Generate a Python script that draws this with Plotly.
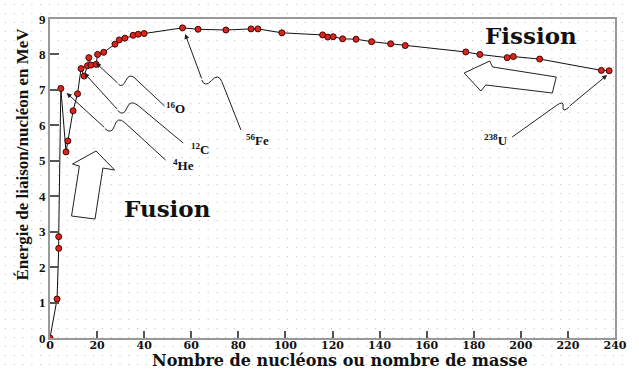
import base64
import plotly.graph_objects as go

# Binding energy per nucleon vs. mass number
mass_number = [0, 3.0, 3.7, 3.7, 4.6, 6.8, 7.6, 9.8, 11.7, 13.2, 14.5, 15.9, 16.5, 17.4,
               19.6, 20.2, 22.8, 27.6, 29.4, 31.8, 35.3, 37.5, 40.0, 56.3, 62.9, 74.7,
               85.4, 88.3, 98.5, 115.8, 118.0, 120.3, 124.3, 130.0, 136.6, 144.7, 150.9,
               176.6, 182.6, 194.2, 196.8, 208.0, 234.2, 237.5]
binding_energy = [0.0, 1.10, 2.53, 2.86, 7.04, 5.25, 5.56, 6.41, 6.89, 7.60, 7.39, 7.68,
                  7.91, 7.70, 7.72, 8.00, 8.06, 8.29, 8.41, 8.46, 8.54, 8.57, 8.59, 8.75,
                  8.71, 8.69, 8.72, 8.72, 8.61, 8.55, 8.49, 8.50, 8.44, 8.43, 8.36, 8.30,
                  8.25, 8.07, 8.00, 7.91, 7.94, 7.87, 7.55, 7.54]

x_ticks = list(range(0, 241, 20))
y_ticks = list(range(0, 10))

W, H = 639, 370
ML, MR, MT, MB = 50, 12, 19, 32
PW, PH = W - ML - MR, H - MT - MB
XR, YR = (0, 240), (0, 9)


def px_to_data(px, py):
    return (XR[0] + (px - ML) / PW * (XR[1] - XR[0]),
            YR[0] + (MT + PH - py) / PH * (YR[1] - YR[0]))


def px_to_paper(px, py):
    return (px - ML) / PW, (MT + PH - py) / PH


SERIF_B = dict(family="DejaVu Serif", color="#111", weight="bold")
TIMES_B = dict(family="Liberation Serif", color="#111", weight="bold")

fig = go.Figure()
fig.add_trace(go.Scatter(
    x=mass_number, y=binding_energy, mode="lines+markers",
    line=dict(color="#111", width=1),
    marker=dict(size=6, color="#d8261c", line=dict(color="#4a0000", width=1)),
    hoverinfo="skip", showlegend=False,
))

# dotted page texture
svg = (f'<svg xmlns="http://www.w3.org/2000/svg" width="{W}" height="{H}">'
       '<defs><pattern id="d" width="9" height="9" patternUnits="userSpaceOnUse">'
       '<rect x="4" y="4" width="1" height="1" fill="#bdbdbd"/></pattern></defs>'
       f'<rect width="{W}" height="{H}" fill="url(#d)"/></svg>')
src = "data:image/svg+xml;base64," + base64.b64encode(svg.encode()).decode()
x0p, y1p = px_to_paper(0, 0)
fig.add_layout_image(dict(source=src, xref="paper", yref="paper", x=x0p, y=y1p,
                          sizex=W / PW, sizey=H / PH, sizing="stretch",
                          xanchor="left", yanchor="top", layer="below"))

shapes = []
annotations = []

# labelled pointers with a wavy break: (start, first bend, second bend, tip) in pixels
pointers = [
    ((168, 160), (119, 116), (113, 135), (67, 93)),
    ((186, 143), (132, 99), (125, 117), (85, 73)),
    ((167, 106), (131, 73), (124, 88), (97, 63)),
    ((245, 130), (222, 73), (208, 88), (188, 34)),
    ((522, 137), (575, 100), (573, 113), (619, 75)),
]
for s, p1, p2, tip in pointers:
    # round the break with quadratic curves around each bend
    a = (s[0] + 0.85 * (p1[0] - s[0]), s[1] + 0.85 * (p1[1] - s[1]))
    m = ((p1[0] + p2[0]) / 2, (p1[1] + p2[1]) / 2)
    b = (p2[0] + 0.15 * (tip[0] - p2[0]), p2[1] + 0.15 * (tip[1] - p2[1]))
    pts = [px_to_data(*p) for p in (s, a, p1, m, p2, b)]
    path = "M {} {} L {} {} Q {} {} {} {} Q {} {} {} {}".format(
        *[v for p in pts for v in p])
    shapes.append(dict(type="path", path=path, xref="x", yref="y",
                       line=dict(color="#222", width=1)))
    tx, ty = px_to_data(*tip)
    annotations.append(dict(x=tx, y=ty, xref="x", yref="y", text="", showarrow=True,
                            ax=b[0] - tip[0], ay=b[1] - tip[1], arrowhead=2,
                            arrowsize=1, arrowwidth=1, arrowcolor="#222"))

# hollow block arrows
fusion_arrow = [(97, 151), (116, 170), (104, 168), (96, 219), (72, 216), (80, 166), (73, 164)]
fission_arrow = [(473, 73), (499, 61), (502, 67), (567, 77), (563, 93), (495, 85), (490, 91)]
for poly in (fusion_arrow, fission_arrow):
    pts = [px_to_data(*p) for p in poly]
    path = "M " + " L ".join(f"{a} {b}" for a, b in pts) + " Z"
    shapes.append(dict(type="path", path=path, xref="x", yref="y",
                       fillcolor="white", line=dict(color="#222", width=1)))

labels = [
    ("<sup>4</sup>He", 186, 165), ("<sup>12</sup>C", 203, 149), ("<sup>16</sup>O", 178, 108),
    ("<sup>56</sup>Fe", 262, 140), ("<sup>238</sup>U", 505, 140),
]
for text, px, py in labels:
    x, y = px_to_data(px, py)
    annotations.append(dict(x=x, y=y, xref="x", yref="y", text=text, showarrow=False,
                            xanchor="center", yanchor="middle",
                            font=dict(size=13, **TIMES_B)))

for text, px, py in [("Fusion", 170, 208), ("Fission", 541, 35)]:
    x, y = px_to_data(px, py)
    annotations.append(dict(x=x, y=y, xref="x", yref="y", text=text, showarrow=False,
                            xanchor="center", yanchor="middle",
                            font=dict(size=23, **SERIF_B)))

xt, yt = px_to_paper(346, 360)
annotations.append(dict(x=xt, y=yt, xref="paper", yref="paper", showarrow=False,
                        xanchor="center", yanchor="middle",
                        text="Nombre de nucléons ou nombre de masse",
                        font=dict(size=16, **SERIF_B)))
xt, yt = px_to_paper(21, 154)
annotations.append(dict(x=xt, y=yt, xref="paper", yref="paper", showarrow=False,
                        xanchor="center", yanchor="middle",
                        textangle=-90, text="Énergie de liaison/nucléon en MeV",
                        font=dict(size=17, **TIMES_B)))

axis_common = dict(showline=True, linecolor="#999", linewidth=2, mirror=True,
                   showgrid=False, zeroline=False, ticks="inside", tickwidth=2,
                   tickcolor="#555")
fig.update_layout(
    width=W, height=H, autosize=False,
    margin=dict(l=ML, r=MR, t=MT, b=MB),
    paper_bgcolor="white", plot_bgcolor="rgba(0,0,0,0)",
    xaxis=dict(range=list(XR), tickvals=x_ticks, ticklen=7, ticklabelstandoff=-4,
               tickfont=dict(size=11, **SERIF_B), **axis_common),
    yaxis=dict(range=list(YR), tickvals=y_ticks, ticklen=9,
               tickfont=dict(size=13, **TIMES_B), **axis_common),
    shapes=shapes, annotations=annotations,
)

fig.write_html("out.html")
